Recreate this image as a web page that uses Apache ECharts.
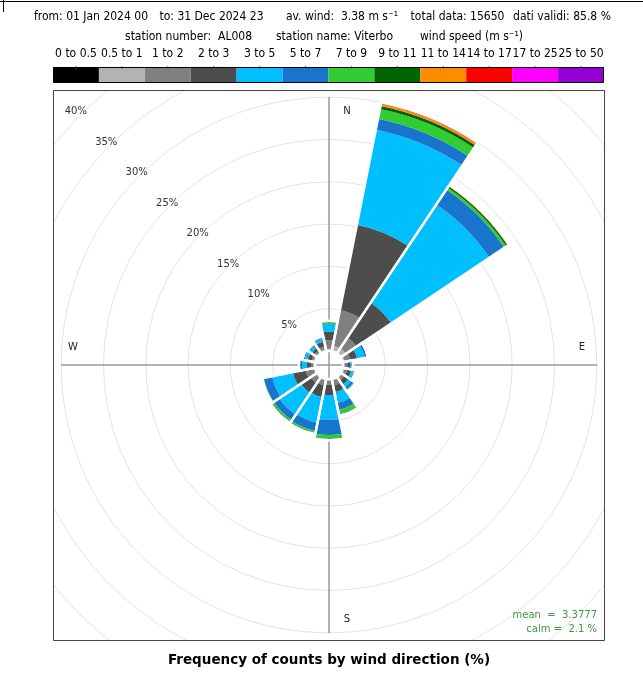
<!DOCTYPE html>
<html>
<head>
<meta charset="utf-8">
<script src="https://cdn.jsdelivr.net/npm/echarts@6/dist/echarts.min.js"></script>
<style>
  html, body { margin: 0; padding: 0; background: #fff; }
  #main { width: 643px; height: 682px; }
</style>
</head>
<body>
<div id="main"></div>
<script>
// wind directions (16 sectors, clockwise from N)
const directions = ['N', 'NNE', 'NE', 'ENE', 'E', 'ESE', 'SE', 'SSE', 'S', 'SSW', 'SW', 'WSW', 'W', 'WNW', 'NW', 'NNW'];

// wind speed classes (m/s) and their colours
const speedBands = ['0 to 0.5', '0.5 to 1', '1 to 2', '2 to 3', '3 to 5', '5 to 7', '7 to 9', '9 to 11', '11 to 14', '14 to 17', '17 to 25', '25 to 50'];
const bandColors = ['#000000', '#b3b3b3', '#808080', '#4d4d4d', '#00bfff', '#1874cd', '#32cd32', '#006400', '#ff8c00', '#ff0000', '#ff00ff', '#9400d3'];

// frequency (%) of each speed class, per direction
const band_0_05  = [0.02, 0.06, 0.06, 0.04, 0.02, 0.02, 0.02, 0.04, 0.04, 0.04, 0.04, 0.04, 0.02, 0.02, 0.02, 0.02];
const band_05_1  = [0.28, 0.65, 0.65, 0.20, 0.22, 0.22, 0.22, 0.20, 0.20, 0.20, 0.20, 0.20, 0.22, 0.22, 0.22, 0.22];
const band_1_2   = [1.00, 4.25, 1.54, 0.71, 0.29, 0.35, 0.35, 0.59, 0.47, 0.59, 0.71, 0.94, 0.23, 0.23, 0.23, 0.35];
const band_2_3   = [0.98, 10.29, 4.96, 0.82, 0.36, 0.47, 0.59, 0.82, 1.18, 1.42, 1.41, 1.54, 0.48, 0.48, 0.35, 0.59];
const band_3_5   = [0.85, 11.46, 13.95, 0.89, 0.17, 0.24, 0.42, 1.31, 2.96, 3.07, 3.08, 2.48, 0.59, 0.35, 0.36, 0.36];
const band_5_7   = [0.08, 1.30, 2.13, 0.24, 0, 0.12, 0.29, 0.82, 1.77, 1.00, 0.77, 1.01, 0.23, 0.12, 0.12, 0.11];
const band_7_9   = [0.18, 1.19, 0.29, 0, 0, 0, 0.12, 0.48, 0.41, 0.18, 0.23, 0.05, 0, 0, 0, 0];
const band_9_11  = [0.04, 0.35, 0.18, 0, 0, 0, 0, 0.05, 0.06, 0.04, 0.06, 0, 0, 0, 0, 0];
const band_11_14 = [0, 0.24, 0.06, 0, 0, 0, 0, 0, 0, 0, 0, 0, 0, 0, 0, 0];
const band_14_17 = [0, 0.06, 0, 0, 0, 0, 0, 0, 0, 0, 0, 0, 0, 0, 0, 0];
const band_17_25 = [0, 0, 0, 0, 0, 0, 0, 0, 0, 0, 0, 0, 0, 0, 0, 0];
const band_25_50 = [0, 0, 0, 0, 0, 0, 0, 0, 0, 0, 0, 0, 0, 0, 0, 0];

const bandValues = [band_0_05, band_05_1, band_1_2, band_2_3, band_3_5, band_5_7,
                    band_7_9, band_9_11, band_11_14, band_14_17, band_17_25, band_25_50];

const headerLine1 = ['from: 01 Jan 2024 00', 'to: 31 Dec 2024 23', 'av. wind:  3.38 m s\u207B\u00B9', 'total data: 15650', 'dati validi: 85.8 %'];
const headerLine2 = ['station number:  AL008', 'station name: Viterbo', 'wind speed (m s\u207B\u00B9)'];
const statsText = ['mean  =  3.3777', 'calm =  2.1 %'];
const compass = ['N', 'E', 'S', 'W'];

const totals = directions.map((d, i) => bandValues.reduce((s, b) => s + b[i], 0));

// layout
const cx = 329, cy = 365;
const hole = 14;
const pxPerPct = 8.46;
const box = { x: 53, y: 90, w: 551, h: 550 };
const headFont = "12px 'DejaVu Sans Condensed', 'DejaVu Sans'";
const smallFont = "10px 'DejaVu Sans'";

const hidden = { axisLine: { show: false }, axisTick: { show: false }, axisLabel: { show: false }, splitLine: { show: false } };

let myChart = echarts.init(document.getElementById('main'));

let series = bandValues.map((vals, k) => ({
  name: speedBands[k],
  type: 'bar',
  coordinateSystem: 'polar',
  polarIndex: 0,
  stack: 'ws',
  barCategoryGap: '0%',
  barGap: '-100%',
  itemStyle: { color: bandColors[k] },
  data: vals,
  silent: true
}));
// white outline round each petal -> the gaps between petals
series.push({
  type: 'bar',
  coordinateSystem: 'polar',
  polarIndex: 0,
  barCategoryGap: '0%',
  barGap: '-100%',
  itemStyle: { color: 'rgba(0,0,0,0)', borderColor: '#fff', borderWidth: 2.4 },
  data: totals.map(t => t + 1.2 / pxPerPct),
  silent: true,
  z: 3
});

let graphic = [];
// masks outside the panel (rings overflow it)
graphic.push({ type: 'rect', z: 100, shape: { x: 0, y: 0, width: 643, height: box.y }, style: { fill: '#fff' } });
graphic.push({ type: 'rect', z: 100, shape: { x: 0, y: box.y, width: box.x, height: box.h }, style: { fill: '#fff' } });
graphic.push({ type: 'rect', z: 100, shape: { x: box.x + box.w, y: box.y, width: 643 - box.x - box.w, height: box.h }, style: { fill: '#fff' } });
graphic.push({ type: 'rect', z: 100, shape: { x: 0, y: box.y + box.h, width: 643, height: 682 - box.y - box.h }, style: { fill: '#fff' } });
// panel border
graphic.push({ type: 'rect', z: 101, shape: { x: box.x + 0.5, y: box.y + 0.5, width: box.w, height: box.h }, style: { fill: 'none', stroke: '#444', lineWidth: 1 } });
// page edge marks
graphic.push({ type: 'line', z: 101, shape: { x1: 0, y1: 1.5, x2: 643, y2: 1.5 }, style: { stroke: '#000', lineWidth: 1 } });
graphic.push({ type: 'line', z: 101, shape: { x1: 3.5, y1: 0, x2: 3.5, y2: 12 }, style: { stroke: '#000', lineWidth: 1 } });

// header text
const line1X = [91, 211.5, 342, 457.5, 562];
headerLine1.forEach((t, i) => graphic.push({ type: 'text', z: 102, style: { text: t, x: line1X[i], y: 17, font: headFont, fill: '#000', align: 'center', verticalAlign: 'middle' } }));
const line2X = [188.5, 334.5, 471.5];
headerLine2.forEach((t, i) => graphic.push({ type: 'text', z: 102, style: { text: t, x: line2X[i], y: 37, font: headFont, fill: '#000', align: 'center', verticalAlign: 'middle' } }));

// colour key
const keyW = box.w / speedBands.length;
speedBands.forEach((lab, i) => {
  graphic.push({ type: 'rect', z: 102, shape: { x: box.x + i * keyW, y: 67, width: keyW, height: 15 }, style: { fill: bandColors[i] } });
  graphic.push({ type: 'line', z: 103, shape: { x1: box.x + (i + 0.5) * keyW, y1: 66, x2: box.x + (i + 0.5) * keyW, y2: 69 }, style: { stroke: '#666', lineWidth: 1 } });
  graphic.push({ type: 'text', z: 102, style: { text: lab, x: box.x + (i + 0.5) * keyW, y: 54, font: headFont, fill: '#000', align: 'center', verticalAlign: 'middle' } });
});
graphic.push({ type: 'rect', z: 103, shape: { x: box.x + 0.5, y: 67.5, width: box.w - 1, height: 15 }, style: { fill: 'none', stroke: '#000', lineWidth: 1 } });

// compass letters
const compassPos = [[347, 111], [582, 347], [347, 619], [73, 347]];
compass.forEach((t, i) => graphic.push({ type: 'text', z: 102, style: { text: t, x: compassPos[i][0], y: compassPos[i][1], font: smallFont, fill: '#222', align: 'center', verticalAlign: 'middle' } }));

// stats
statsText.forEach((t, i) => graphic.push({ type: 'text', z: 102, style: { text: t, x: 597, y: 615 + i * 14, font: smallFont, fill: '#3c9b3c', align: 'right', verticalAlign: 'middle' } }));

// title
graphic.push({ type: 'text', z: 102, style: { text: 'Frequency of counts by wind direction (%)', x: 329, y: 660, font: "bold 13.5px 'DejaVu Sans'", fill: '#000', align: 'center', verticalAlign: 'middle' } });

myChart.setOption({
  animation: false,
  polar: [
    { center: [cx, cy], radius: [hole, hole + 40 * pxPerPct] },   // petals
    { center: [cx, cy], radius: [hole, hole + 40 * pxPerPct] },   // rings
    { center: [cx, cy], radius: [13.3, 13.3 + 40 * 8.62] },       // ring labels
    { center: [cx, cy], radius: [0, 268] }                         // cross
  ],
  angleAxis: [
    Object.assign({ polarIndex: 0, type: 'category', data: directions, startAngle: 90 + 11.25, clockwise: true, boundaryGap: true }, hidden),
    Object.assign({ polarIndex: 1, type: 'value', min: 0, max: 360, startAngle: 90 }, hidden),
    Object.assign({ polarIndex: 2, type: 'value', min: 0, max: 360, startAngle: 135 }, hidden),
    Object.assign({}, hidden, { polarIndex: 3, type: 'value', min: 0, max: 360, interval: 90, startAngle: 90,
      splitLine: { show: true, lineStyle: { color: '#999', width: 1.5 } } })
  ],
  radiusAxis: [
    Object.assign({ polarIndex: 0, type: 'value', min: 0, max: 40 }, hidden),
    Object.assign({}, hidden, { polarIndex: 1, type: 'value', min: 0, max: 40, interval: 5,
      splitLine: { show: true, lineStyle: { color: '#e3e3e3', width: 1 } } }),
    Object.assign({}, hidden, { polarIndex: 2, type: 'value', min: 0, max: 40, interval: 5,
      axisLabel: { show: true, margin: 0, showMinLabel: false, align: 'center', verticalAlign: 'middle',
        fontFamily: 'DejaVu Sans', fontSize: 10, color: '#333',
        formatter: v => v === 0 ? '' : v + '%' } }),
    Object.assign({ polarIndex: 3, type: 'value', min: 0, max: 1 }, hidden)
  ],
  series: series,
  graphic: graphic
});
</script>
</body>
</html>
